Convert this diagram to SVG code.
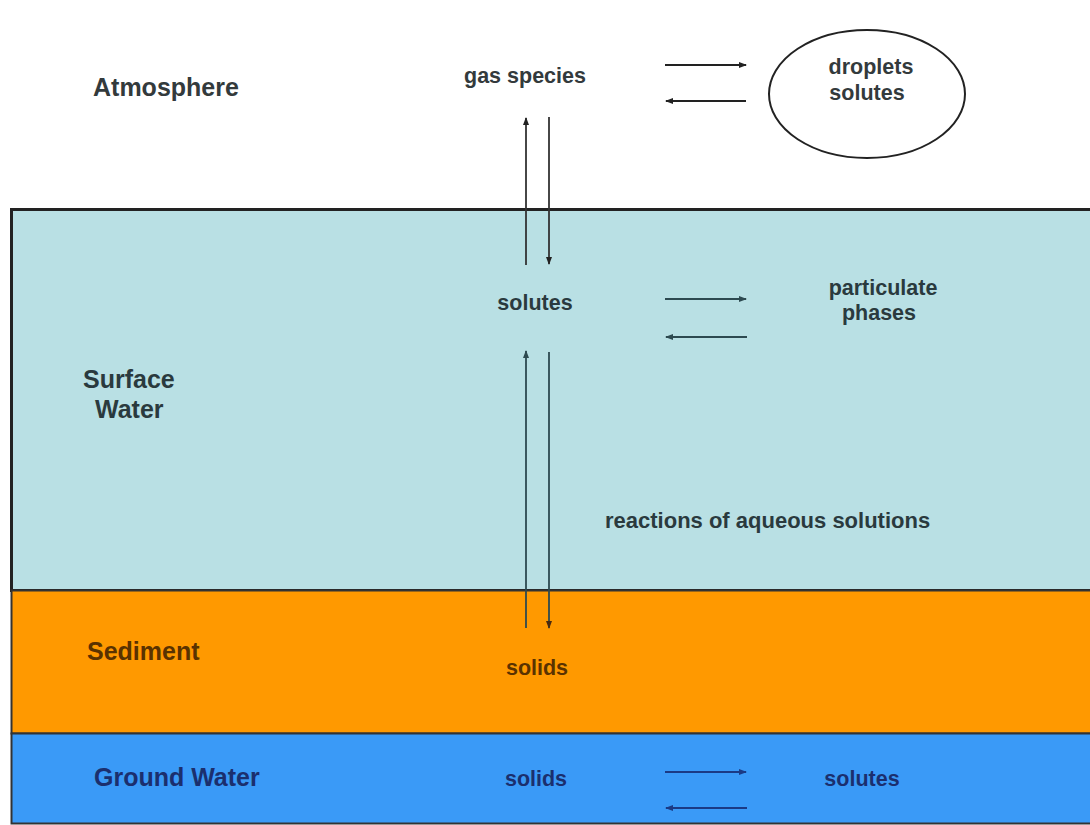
<svg xmlns="http://www.w3.org/2000/svg" width="1090" height="825" viewBox="0 0 1090 825">
<style>
text{font-family:"Liberation Sans",Arial,sans-serif;font-weight:bold}
.big{font-size:25px}
.sm{font-size:21.5px}
.gray{fill:#333a3c}
.teal{fill:#2a3a3e}
.brown{fill:#5a3200}
.navy{fill:#1b2f6e}
.ln{stroke-width:1.8;fill:none}
</style>
<defs>
<marker id="ah" viewBox="0 0 8 6" refX="7" refY="3" markerWidth="8" markerHeight="6" markerUnits="userSpaceOnUse" orient="auto"><path d="M0,0 L8,3 L0,6 z" fill="context-stroke"/></marker>
<marker id="ahk" viewBox="0 0 8 6" refX="7" refY="3" markerWidth="8" markerHeight="6" markerUnits="userSpaceOnUse" orient="auto"><path d="M0,0 L8,3 L0,6 z" fill="#222"/></marker>
<marker id="aht" viewBox="0 0 8 6" refX="7" refY="3" markerWidth="8" markerHeight="6" markerUnits="userSpaceOnUse" orient="auto"><path d="M0,0 L8,3 L0,6 z" fill="#2d4a50"/></marker>
<marker id="ahb" viewBox="0 0 8 6" refX="7" refY="3" markerWidth="8" markerHeight="6" markerUnits="userSpaceOnUse" orient="auto"><path d="M0,0 L8,3 L0,6 z" fill="#4a2a10"/></marker>
<marker id="ahn" viewBox="0 0 8 6" refX="7" refY="3" markerWidth="8" markerHeight="6" markerUnits="userSpaceOnUse" orient="auto"><path d="M0,0 L8,3 L0,6 z" fill="#1b3a85"/></marker>
</defs>
<rect width="1090" height="825" fill="#ffffff"/>
<g id="layers">
<rect id="surface-water-layer" x="11.5" y="209.5" width="1090" height="381" fill="#b9e0e4" stroke="#222" stroke-width="3"/>
<rect id="sediment-layer" x="11.5" y="590.5" width="1090" height="143" fill="#ff9900" stroke="#333" stroke-width="2"/>
<rect id="ground-water-layer" x="11.5" y="733.5" width="1090" height="90" fill="#3a9af7" stroke="#333" stroke-width="2"/>
</g>
<g id="labels">
<g id="atmosphere-label"><text class="big gray" x="93" y="96">Atmosphere</text></g>
<g id="surface-water-label"><text class="big teal" x="83" y="388">Surface</text><text class="big teal" x="95" y="418">Water</text></g>
<g id="sediment-label"><text class="big brown" x="87" y="660">Sediment</text></g>
<g id="ground-water-label"><text class="big navy" x="94" y="786">Ground Water</text></g>
</g>
<g id="gas-species"><text class="sm gray" x="525" y="83" text-anchor="middle">gas species</text></g>
<g id="droplets-solutes">
<ellipse cx="867" cy="94" rx="98" ry="64" fill="none" stroke="#222" stroke-width="2"/>
<text class="sm gray" x="871" y="74" text-anchor="middle">droplets</text>
<text class="sm gray" x="867" y="100" text-anchor="middle">solutes</text>
</g>
<g id="surface-solutes"><text class="sm teal" x="535" y="310" text-anchor="middle">solutes</text></g>
<g id="particulate-phases">
<text class="sm teal" x="883" y="295" text-anchor="middle">particulate</text>
<text class="sm teal" x="879" y="320" text-anchor="middle">phases</text>
</g>
<g id="reactions"><text class="teal" style="font-size:22px" x="605" y="528">reactions of aqueous solutions</text></g>
<g id="sediment-solids"><text class="sm brown" x="537" y="675" text-anchor="middle">solids</text></g>
<g id="ground-solids"><text class="sm navy" x="536" y="786" text-anchor="middle">solids</text></g>
<g id="ground-solutes"><text class="sm navy" x="862" y="786" text-anchor="middle">solutes</text></g>
<g id="connectors">
<line class="ln" stroke="#222" x1="665" y1="65" x2="746" y2="65" marker-end="url(#ahk)"/>
<line class="ln" stroke="#222" x1="746" y1="101" x2="666" y2="101" marker-end="url(#ahk)"/>
<line class="ln" stroke="#333" x1="526" y1="265" x2="526" y2="118" marker-end="url(#ahk)"/>
<line class="ln" stroke="#333" x1="549" y1="117" x2="549" y2="264" marker-end="url(#ahk)"/>
<line class="ln" stroke="#2d4a50" x1="665" y1="299" x2="746" y2="299" marker-end="url(#aht)"/>
<line class="ln" stroke="#2d4a50" x1="747" y1="337" x2="666" y2="337" marker-end="url(#aht)"/>
<line class="ln" stroke="#2d4a50" x1="526" y1="628" x2="526" y2="351" marker-end="url(#aht)"/>
<line class="ln" stroke="#2d4a50" x1="549" y1="352" x2="549" y2="628" marker-end="url(#ahb)"/>
<line class="ln" stroke="#1b3a85" x1="665" y1="772" x2="746" y2="772" marker-end="url(#ahn)"/>
<line class="ln" stroke="#1b3a85" x1="747" y1="808" x2="666" y2="808" marker-end="url(#ahn)"/>
</g>
</svg>
